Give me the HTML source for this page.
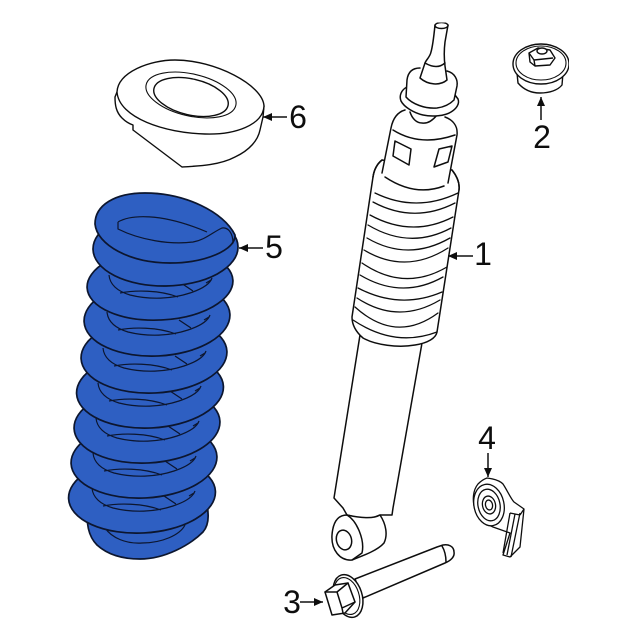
<!DOCTYPE html>
<html><head><meta charset="utf-8"><style>html,body{margin:0;padding:0;background:#fff}svg{display:block}text{font-family:"Liberation Sans",sans-serif;font-size:32px;fill:#111;text-anchor:middle}</style></head><body>
<svg width="640" height="640" viewBox="0 0 640 640" xmlns="http://www.w3.org/2000/svg">
<defs><marker id="a" markerWidth="10" markerHeight="10" refX="9" refY="4" orient="auto" markerUnits="userSpaceOnUse"><path d="M0 0L9 4L0 8Z" fill="#111"/></marker>
<filter id="s" x="0" y="0" width="100%" height="100%"><feGaussianBlur stdDeviation="0.35"/></filter></defs>
<g filter="url(#s)">
<!-- spring -->
<g fill="#2f5fc2" stroke="#08142e" stroke-width="1.7" stroke-linejoin="round">
<path d="M88 510C86 522 88 536 97 545C108 555 122 559 140 559C165 559 190 545 203 532C209 525 209 515 207 505L150 490Z"/>
<g fill="none" stroke-width="1.2"><path d="M105 528C112 538 126 544 142 543C162 543 180 535 185 525"/></g>

<ellipse cx="142" cy="495" rx="73.5" ry="38" transform="rotate(-3 142 495)"/>
<g fill="none" stroke-width="1.2" transform="translate(-17,213)"><path d="M109 275C110 286 120 292 130 295C150 300 172 299 190 293C202 289 210 284 212 278M120 293C135 290 160 290 178 297M181 283L193 291M206 283L211 280"/></g>
<ellipse cx="144" cy="460" rx="73" ry="38" transform="rotate(-3 144 460)"/>
<g fill="none" stroke-width="1.2" transform="translate(-16,178)"><path d="M109 275C110 286 120 292 130 295C150 300 172 299 190 293C202 289 210 284 212 278M120 293C135 290 160 290 178 297M181 283L193 291M206 283L211 280"/></g>
<ellipse cx="147" cy="425" rx="73" ry="38" transform="rotate(-3 147 425)"/>
<g fill="none" stroke-width="1.2" transform="translate(-13,143)"><path d="M109 275C110 286 120 292 130 295C150 300 172 299 190 293C202 289 210 284 212 278M120 293C135 290 160 290 178 297M181 283L193 291M206 283L211 280"/></g>
<ellipse cx="150" cy="390" rx="73.5" ry="38" transform="rotate(-3 150 390)"/>
<g fill="none" stroke-width="1.2" transform="translate(-11,108)"><path d="M109 275C110 286 120 292 130 295C150 300 172 299 190 293C202 289 210 284 212 278M120 293C135 290 160 290 178 297M181 283L193 291M206 283L211 280"/></g>
<ellipse cx="154" cy="355" rx="73" ry="38" transform="rotate(-3 154 355)"/>
<g fill="none" stroke-width="1.2" transform="translate(-6,73)"><path d="M109 275C110 286 120 292 130 295C150 300 172 299 190 293C202 289 210 284 212 278M120 293C135 290 160 290 178 297M181 283L193 291M206 283L211 280"/></g>
<ellipse cx="157" cy="318" rx="73" ry="38" transform="rotate(-3 157 318)"/>
<g fill="none" stroke-width="1.2" transform="translate(-2,37)"><path d="M109 275C110 286 120 292 130 295C150 300 172 299 190 293C202 289 210 284 212 278M120 293C135 290 160 290 178 297M181 283L193 291M206 283L211 280"/></g>
<ellipse cx="160" cy="284" rx="73" ry="36" transform="rotate(-3 160 284)"/>
<g fill="none" stroke-width="1.2"><path d="M109 275C110 286 120 292 130 295C150 300 172 299 190 293C202 289 210 284 212 278M120 293C135 290 160 290 178 297M181 283L193 291M206 283L211 280"/></g>
<ellipse cx="165.500" cy="248" rx="72.500" ry="38" transform="rotate(-1 165 248)"/>
<path d="M95 224C95 205 115 193 145 193C185 193 224 212 235 235C236 250 205 263 170 263C130 263 97 245 95 224Z"/>
<path fill="none" stroke-width="1.2" d="M118 222C130 215 160 212 207 232M118 222L118 229C140 240 170 245 193 242C205 240 213 232 222 228C228 227 233 233 233 243L228 248"/>
</g>

<!-- part 6 -->
<g fill="#fff" stroke="#111" stroke-width="1.4" stroke-linejoin="round">
<path d="M117 92L115 97C115 105 116 112 122 118C126 122 130 124 133 125L133 130L182 167C200 166 220 165 235 157C250 150 258 140 260 130L263 117L264 106Z"/>
<path d="M117 92C118 72 150 60 175 60C215 60 263 85 264 106C263 125 235 135 205 134C165 133 119 118 117 92Z"/>
<ellipse cx="191" cy="95" rx="46" ry="21" transform="rotate(13 191 95)" stroke-width="1.1"/>
<ellipse cx="191" cy="97" rx="38" ry="18" transform="rotate(13 191 97)"/>
</g>

<!-- shock -->
<g fill="none" stroke="#111" stroke-width="1.5" stroke-linejoin="round" stroke-linecap="round">
<path fill="#fff" d="M360 335L334 498L343 508L347 515L360 518L370 519L380 515L392 515L393 508L422 343Z"/>
<path fill="#fff" d="M347 515C365 519 375 518 380 515C386 524 388 535 384 543C378 550 365 555 352 560C340 561 331 550 332 535C333 522 338 515 347 515Z"/>
<path d="M347 515C357 521 365 540 362 553L352 560"/>
<ellipse cx="344" cy="540" rx="7.500" ry="10" transform="rotate(-15 344 540)"/>
<path fill="#fff" d="M373 177L352 317C352 325 356 332 363 338C375 345 398 348 415 345C428 343 436 338 437 332L459 190C460 182 456 175 452 170L382 160C377 164 374 170 373 177Z"/>
<g stroke-width="1.3"><path d="M375 193Q416 213 458 193M373 202Q414 224 455 203M370 215Q412 238 453 217M368 225Q410 250 451 228M367 238Q408 262 450 238M364 250Q406 275 448 248M362 263Q404 292 447 267M360 275Q402 300 443 277M358 288Q400 310 442 292M357 298Q398 325 440 300M355 307Q396 344 438 313M353 320Q395 348 437 332"/></g>
<path fill="#fff" stroke="none" d="M388 150L382 173L385 177Q415 197 444 186L450 160Z"/>
<path d="M382 160C377 164 374 170 373 177M452 170C456 175 460 182 459 190"/>
<path fill="#fff" d="M405 110C398 112 393 118 391 128L382 173M445 117C453 120 458 126 457 135L448 183"/>
<path d="M385 177Q415 197 444 186M393 130Q420 147 455 135"/>
<path fill="#fff" d="M395 141L411 149L409 165L393 156ZM439 149L452 146L448 162L434 167Z"/>
<path d="M410 112C412 118 416 123 422 123C428 124 433 120 437 115"/>
<path fill="#fff" d="M407 87C401 90 399 96 401 101C404 107 414 113 423 115C432 117 445 116 451 112C456 109 460 104 458 99L455 95Z"/>
<path fill="#fff" stroke="none" d="M420 68C412 68 408 72 407 80L406 97C412 104 425 109 437 108C445 107 450 104 454 100L457 86C458 80 455 73 447 71Z"/>
<path d="M420 68C412 68 408 72 407 80L406 97C412 104 425 109 437 108C445 107 450 104 454 100L457 86C458 80 455 73 447 71"/>
<path fill="#fff" d="M435 25C434 35 433 45 431 52C430 57 426 60 425 63L420 78C428 85 440 86 447 80L445 66C444 58 444 50 445 42L448 25Z"/>
<ellipse cx="441.500" cy="25.500" rx="6.500" ry="3" fill="#fff"/>
<path d="M425 63Q437 70 445 63"/>
</g>

<!-- bolt -->
<g fill="#fff" stroke="#111" stroke-width="1.5" stroke-linejoin="round" stroke-linecap="round">
<path d="M355 579L437 547L443 545C448 544 454 546 454 552C455 557 450 561 445 563L363 598Z"/>
<path fill="none" d="M442 546C445 551 446 556 446 562"/>
<ellipse cx="348" cy="596" rx="14" ry="22" transform="rotate(-18 348 596)"/>
<ellipse cx="347" cy="596" rx="12" ry="19" transform="rotate(-18 347 596)" stroke-width="1.1"/>
<path d="M325 592L335 585L348 583L355 602L345 613L332 615Z"/>
<path fill="none" d="M325 592L337 592L348 583M337 592L342 608L355 602M342 608L343 613"/>
</g>

<!-- part 4 -->
<g fill="#fff" stroke="#111" stroke-width="1.3" stroke-linejoin="round">
<path d="M487 478C495 479 500 481 503 484C507 490 511 499 514 502L524 509L520 547L510 557L503 555L510 533L493 527C484 523 477 518 475 510C472 500 473 490 478 484C481 481 484 479 487 478Z"/>
<path fill="none" d="M510 513L503 553M520 513L511 557M510 513L520 515M524 509L520 515M515 514L507 555"/>
<ellipse cx="489" cy="505" rx="15" ry="21" transform="rotate(-12 489 505)"/>
<ellipse cx="489" cy="505" rx="11" ry="16" transform="rotate(-12 489 505)"/>
<ellipse cx="489" cy="505" rx="6.500" ry="9" transform="rotate(-12 489 505)"/>
<ellipse cx="489" cy="505" rx="3.500" ry="5" transform="rotate(-12 489 505)"/>
</g>

<!-- part 2 -->
<g fill="#fff" stroke="#111" stroke-width="1.4" stroke-linejoin="round">
<path d="M517 73L518 83C524 90 532 93 540 93C550 93 558 90 562 85L563 73Z"/>
<ellipse cx="541" cy="64" rx="28" ry="20"/>
<ellipse cx="541" cy="63" rx="25" ry="17" stroke-width="1.1"/>
<path d="M529 53L538 48L550 50L555 58L550 65L535 66L530 62Z"/>
<path fill="none" d="M529 53L534 60L535 66M534 60L553 58"/>
<ellipse cx="542" cy="51" rx="5" ry="3"/>
</g>

<!-- arrows -->
<g stroke="#111" stroke-width="1.5" fill="none">
<path d="M287 117H263" marker-end="url(#a)"/>
<path d="M263 248H239" marker-end="url(#a)"/>
<path d="M473 256H448" marker-end="url(#a)"/>
<path d="M300 602H323" marker-end="url(#a)"/>
<path d="M488 453V477" marker-end="url(#a)"/>
<path d="M541 120V97" marker-end="url(#a)"/>
</g>

<text x="298" y="128">6</text>
<text x="274" y="258">5</text>
<text x="483" y="265">1</text>
<text x="292" y="613">3</text>
<text x="487" y="449">4</text>
<text x="542" y="148">2</text>
</g>
</svg>
</body></html>
